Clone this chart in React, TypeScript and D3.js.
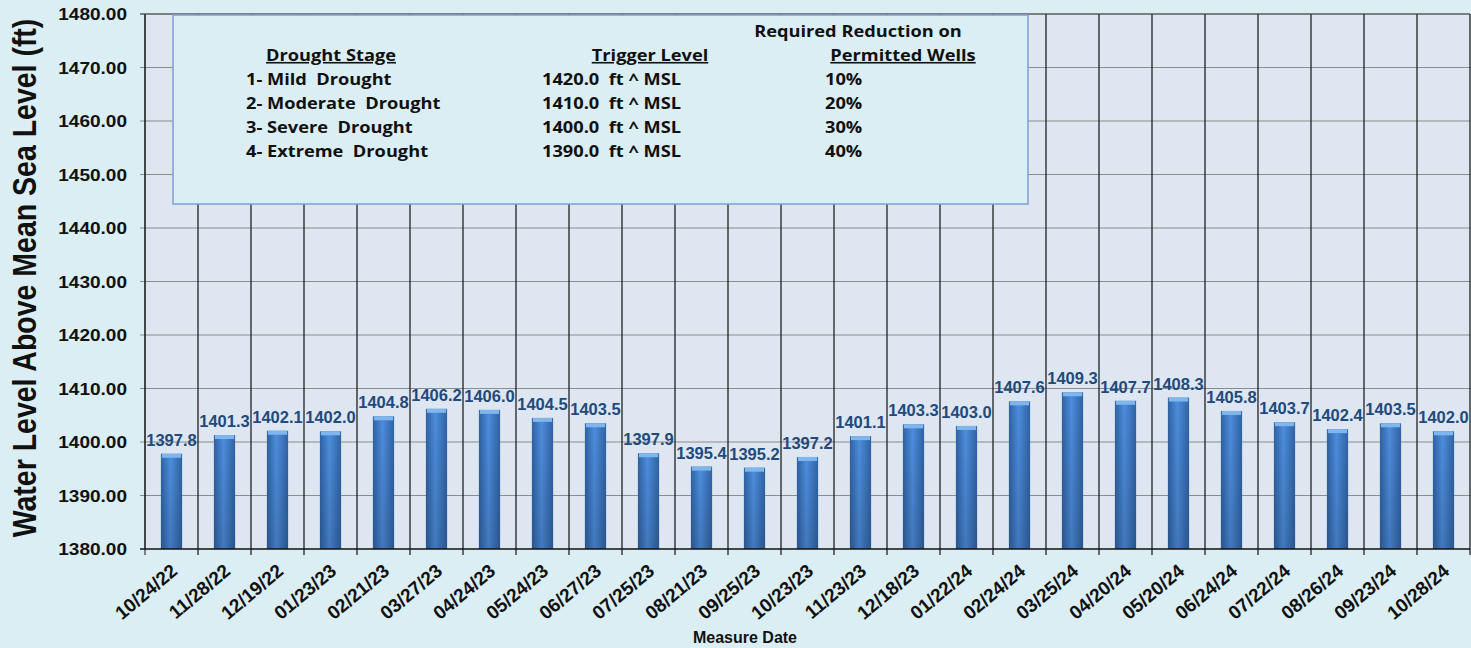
import React, { useEffect, useRef } from 'react';
import * as d3 from 'd3';

const dates = ['10/24/22', '11/28/22', '12/19/22', '01/23/23', '02/21/23', '03/27/23', '04/24/23', '05/24/23',
  '06/27/23', '07/25/23', '08/21/23', '09/25/23', '10/23/23', '11/23/23', '12/18/23', '01/22/24', '02/24/24',
  '03/25/24', '04/20/24', '05/20/24', '06/24/24', '07/22/24', '08/26/24', '09/23/24', '10/28/24'];
const levels = [1397.8, 1401.3, 1402.1, 1402.0, 1404.8, 1406.2, 1406.0, 1404.5, 1403.5, 1397.9, 1395.4, 1395.2,
  1397.2, 1401.1, 1403.3, 1403.0, 1407.6, 1409.3, 1407.7, 1408.3, 1405.8, 1403.7, 1402.4, 1403.5, 1402.0];
const yTicks = [1380, 1390, 1400, 1410, 1420, 1430, 1440, 1450, 1460, 1470, 1480];

const stages = ['1- Mild  Drought', '2- Moderate  Drought', '3- Severe  Drought', '4- Extreme  Drought'];
const triggers = ['1420.0  ft ^ MSL', '1410.0  ft ^ MSL', '1400.0  ft ^ MSL', '1390.0  ft ^ MSL'];
const reductions = ['10%', '20%', '30%', '40%'];

const W = 1471;
const H = 648;
const ARIAL = '"Liberation Sans", Arial, sans-serif';

export default function App() {
  const svgRef = useRef<SVGSVGElement>(null);

  useEffect(() => {
    const svg = d3.select(svgRef.current);
    svg.selectAll('*').remove();

    const margin = { top: 14, right: 1, bottom: 99, left: 145 };
    const width = W - margin.left - margin.right;
    const height = H - margin.top - margin.bottom;

    // gradients for the bars
    const defs = svg.append('defs');
    const grad = defs.append('linearGradient').attr('id', 'barGrad').attr('x1', '0').attr('x2', '1');
    grad.append('stop').attr('offset', '0%').attr('stop-color', '#2f62a3');
    grad.append('stop').attr('offset', '45%').attr('stop-color', '#4d8ede');
    grad.append('stop').attr('offset', '100%').attr('stop-color', '#3063a4');
    const shade = defs.append('linearGradient').attr('id', 'barShade').attr('x1', '0').attr('x2', '0').attr('y1', '0').attr('y2', '1');
    shade.append('stop').attr('offset', '0%').attr('stop-color', '#000').attr('stop-opacity', 0);
    shade.append('stop').attr('offset', '100%').attr('stop-color', '#000').attr('stop-opacity', 0.15);

    svg.append('rect').attr('width', W).attr('height', H).attr('fill', '#dbeef4');

    const chart = svg.append('g').attr('transform', `translate(${margin.left},${margin.top})`);

    const x = d3.scaleBand().domain(dates).range([0, width]).paddingInner(0.6).paddingOuter(0.3);
    const y = d3.scaleLinear().domain([1380, 1480]).range([height, 0]);
    const step = x.step();

    chart.append('rect').attr('width', width).attr('height', height).attr('fill', '#dde6f1');

    // horizontal grid
    chart.selectAll('.hgrid').data(yTicks.slice(1)).join('line')
      .attr('x1', -5).attr('x2', width)
      .attr('y1', d => y(d)).attr('y2', d => y(d))
      .attr('stroke', '#8c8c8c').attr('stroke-width', 1.2);

    // vertical grid at category boundaries
    const bounds = dates.map((d, i) => (i + 1) * step);
    chart.selectAll('.vgrid').data(bounds).join('line')
      .attr('x1', d => d).attr('x2', d => d)
      .attr('y1', 0).attr('y2', height + 6)
      .attr('stroke', '#111').attr('stroke-width', 1.2);

    // bars
    const bars = chart.selectAll('.bar').data(levels).join('g');
    bars.append('rect')
      .attr('x', (d, i) => x(dates[i]) as number)
      .attr('y', d => y(d))
      .attr('width', x.bandwidth())
      .attr('height', d => height - y(d))
      .attr('fill', 'url(#barGrad)');
    bars.append('rect')
      .attr('x', (d, i) => x(dates[i]) as number)
      .attr('y', d => y(d))
      .attr('width', x.bandwidth())
      .attr('height', d => height - y(d))
      .attr('fill', 'url(#barShade)');
    bars.append('rect')
      .attr('x', (d, i) => (x(dates[i]) as number) + 1)
      .attr('y', d => y(d))
      .attr('width', x.bandwidth() - 2)
      .attr('height', 4)
      .attr('fill', '#7fb6ee');

    // value labels
    chart.selectAll('.val').data(levels).join('text')
      .attr('x', (d, i) => (x(dates[i]) as number) + x.bandwidth() / 2)
      .attr('y', d => y(d) - 8)
      .attr('text-anchor', 'middle')
      .attr('font-family', ARIAL)
      .attr('font-weight', 'bold')
      .attr('font-size', 16.5)
      .attr('fill', '#1f4a7c')
      .text(d => d.toFixed(1));

    // axes
    chart.append('line').attr('x1', 0).attr('x2', 0).attr('y1', 0).attr('y2', height).attr('stroke', '#111').attr('stroke-width', 1.5);
    chart.append('line').attr('x1', -5).attr('x2', width).attr('y1', height).attr('y2', height).attr('stroke', '#111').attr('stroke-width', 1.5);
    chart.append('line').attr('x1', -5).attr('x2', width).attr('y1', 0).attr('y2', 0).attr('stroke', '#444').attr('stroke-width', 1.2);
    chart.append('line').attr('x1', 0).attr('x2', 0).attr('y1', height).attr('y2', height + 6).attr('stroke', '#111');

    chart.selectAll('.ylab').data(yTicks).join('text')
      .attr('transform', d => `translate(-18,${y(d) + 6}) scale(1.12,1)`)
      .attr('text-anchor', 'end')
      .attr('font-family', ARIAL)
      .attr('font-weight', 'bold')
      .attr('font-size', 17)
      .attr('fill', '#111')
      .text(d => d.toFixed(2));

    chart.selectAll('.xlab').data(dates).join('text')
      .attr('transform', d => `translate(${(x(d) as number) + x.bandwidth() / 2 - 2},${height + 13}) rotate(-40)`)
      .attr('text-anchor', 'end')
      .attr('dy', '0.75em')
      .attr('font-family', ARIAL)
      .attr('font-weight', 'bold')
      .attr('font-size', 19)
      .attr('fill', '#111')
      .text(d => d);

    svg.append('text')
      .attr('x', 745)
      .attr('y', 643)
      .attr('text-anchor', 'middle')
      .attr('font-family', ARIAL)
      .attr('font-weight', 'bold')
      .attr('font-size', 16)
      .attr('fill', '#111')
      .text('Measure Date');

    svg.append('text')
      .attr('transform', `translate(36,278) scale(1.17,1) rotate(-90)`)
      .attr('text-anchor', 'middle')
      .attr('font-family', ARIAL)
      .attr('font-weight', 'bold')
      .attr('font-size', 28.5)
      .attr('fill', '#111')
      .text('Water Level Above Mean Sea Level (ft)');

    // legend box
    const lg = svg.append('g');
    lg.append('rect').attr('x', 173).attr('y', 15).attr('width', 855).attr('height', 189)
      .attr('fill', '#daeef3').attr('stroke', '#7fa0cf').attr('stroke-width', 1.5);
    const font = '"Open Sans", Lato, sans-serif';
    const txt = (tx: number, ty: number, s: string, anchor = 'start', underline = false) =>
      lg.append('text').attr('transform', `translate(${tx},${ty}) scale(1.14,1)`).attr('text-anchor', anchor)
        .attr('font-family', font).attr('font-weight', 'bold').attr('font-size', 16).attr('fill', '#111')
        .attr('text-decoration', underline ? 'underline' : null)
        .style('white-space', 'pre').text(s);
    txt(858, 37, 'Required Reduction on', 'middle');
    txt(331, 61, 'Drought Stage', 'middle', true);
    txt(650, 61, 'Trigger Level', 'middle', true);
    txt(903, 61, 'Permitted Wells', 'middle', true);
    stages.forEach((s, i) => txt(246, 85 + i * 24, s));
    triggers.forEach((s, i) => txt(542, 85 + i * 24, s));
    reductions.forEach((s, i) => txt(825, 85 + i * 24, s));
  }, []);

  return <svg ref={svgRef} width={W} height={H} style={{ display: 'block', position: 'absolute', left: 0, top: 0 }} />;
}
